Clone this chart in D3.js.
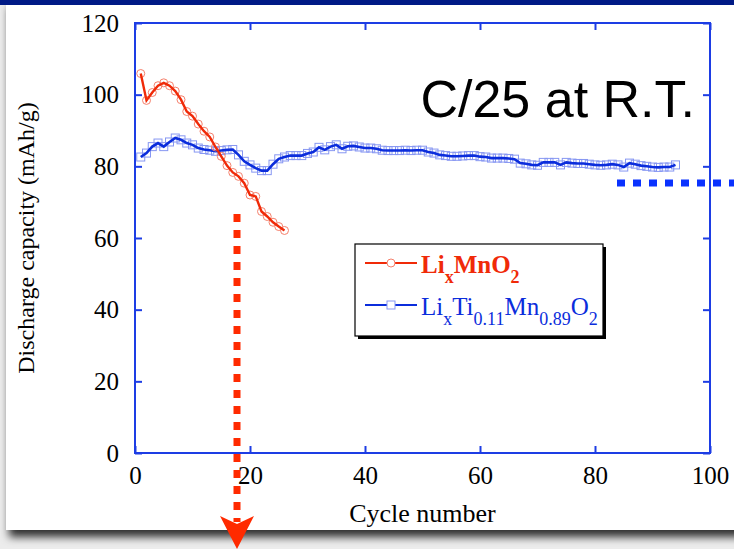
<!DOCTYPE html>
<html><head><meta charset="utf-8">
<script src="https://cdn.jsdelivr.net/npm/d3@7"></script>
<style>html,body{margin:0;padding:0;background:#ececec;overflow:hidden}</style>
</head><body>
<svg id="c" width="734" height="549"></svg>
<script>
const xTicks = [0, 20, 40, 60, 80, 100];
const yTicks = [0, 20, 40, 60, 80, 100, 120];
const redCycles = d3.range(1, 27);
const redValues = [105.9, 98.4, 100.6, 102.5, 103.3, 102.5, 101, 98.6, 95.3, 94, 91.8, 89.8, 88.2, 85.4, 82.8, 80.2, 78.3, 77.2, 75.3, 72, 71.6, 67.4, 66, 64.4, 63.2, 62.1];
const blueCycles = d3.range(1, 95);
const blueValues = [82.6, 83.7, 85.5, 86.5, 85.5, 86.8, 87.9, 87.4, 86.5, 86, 85.1, 84.7, 84.5, 84.2, 84.4, 84.6, 84.7, 83.2, 81.4, 80.4,
  79.5, 78.8, 78.8, 80.6, 82.1, 82.6, 83.0, 83.0, 83.0, 83.6, 84.0, 85.3, 84.6, 85.5, 86.0, 84.9, 85.6, 85.7, 85.4, 85.1,
  85.1, 84.9, 84.5, 84.4, 84.4, 84.4, 84.5, 84.4, 84.5, 84.5, 84.0, 83.7, 83.2, 83.0, 82.8, 82.8, 82.9, 83.0, 83.0, 82.7,
  82.6, 82.3, 82.3, 82.3, 82.2, 82.0, 80.9, 80.7, 80.4, 80.3, 81.1, 81.1, 81.1, 80.4, 81.1, 80.9, 80.8, 80.8, 80.6, 80.4,
  80.3, 80.4, 80.6, 80.4, 79.8, 80.9, 80.6, 80.2, 80.0, 79.8, 79.7, 79.8, 79.8, 80.4];
const titleText = "C/25 at R.T.";
const xLabel = "Cycle number";
const yLabel = "Discharge capacity (mAh/g)";

const svg = d3.select("#c");
const defs = svg.append("defs");
const f = defs.append("filter").attr("id","sh").attr("x","-10%").attr("y","-10%").attr("width","130%").attr("height","130%");
f.append("feDropShadow").attr("dx",3).attr("dy",7).attr("stdDeviation",4).attr("flood-color","#000").attr("flood-opacity",0.8);

svg.append("rect").attr("x",6).attr("y",0).attr("width",760).attr("height",530).attr("fill","#fff").attr("filter","url(#sh)");
svg.append("rect").attr("x",0).attr("y",0).attr("width",734).attr("height",5).attr("fill","#001a86");

const x = d3.scaleLinear().domain([0,100]).range([135,710]);
const y = d3.scaleLinear().domain([0,120]).range([453,23]);
const axisColor = "#1d3de4";
const serif = "'Liberation Serif','Times New Roman',serif";

svg.append("rect").attr("x",x(0)).attr("y",y(120)).attr("width",x(100)-x(0)).attr("height",y(0)-y(120))
  .attr("fill","none").attr("stroke",axisColor).attr("stroke-width",2);

function styleAxis(g){ g.select(".domain").remove(); g.selectAll("line").attr("stroke",axisColor).attr("stroke-width",2); g.selectAll("text").attr("font-family",serif).attr("font-size",25).attr("fill","#000"); }
svg.append("g").attr("transform",`translate(0,${y(0)})`).call(d3.axisBottom(x).tickValues(xTicks).tickSize(-7).tickPadding(13)).call(styleAxis);
svg.append("g").attr("transform",`translate(0,${y(120)})`).call(d3.axisTop(x).tickValues(xTicks).tickSize(-7).tickFormat("")).call(styleAxis);
svg.append("g").attr("transform",`translate(${x(0)},0)`).call(d3.axisLeft(y).tickValues(yTicks).tickSize(-7).tickPadding(16)).call(styleAxis);
svg.append("g").attr("transform",`translate(${x(100)},0)`).call(d3.axisRight(y).tickValues(yTicks).tickSize(-7).tickFormat("")).call(styleAxis);

svg.append("text").attr("x",(x(0)+x(100))/2).attr("y",522).attr("text-anchor","middle").attr("font-family",serif).attr("font-size",26).text(xLabel);
svg.append("text").attr("transform","translate(34,238) rotate(-90)").attr("text-anchor","middle").attr("font-family",serif).attr("font-size",24).text(yLabel);
svg.append("text").attr("x",695).attr("y",117).attr("text-anchor","end").attr("font-family","'Liberation Sans',Arial,sans-serif").attr("font-size",52).attr("fill","#000").text(titleText);

const red = "#f02a08", redM = "#f5806c", blue = "#0b2ddc", blueM = "#8797f2";
const line = d3.line().x(d=>x(d[0])).y(d=>y(d[1]));
const blueData = blueCycles.map((c,i)=>[c,blueValues[i]]);
const redData = redCycles.map((c,i)=>[c,redValues[i]]);

svg.append("g").selectAll("rect").data(blueData).join("rect")
  .attr("x",d=>x(d[0])-4).attr("y",d=>y(d[1])-4).attr("width",8).attr("height",8)
  .attr("fill","none").attr("stroke",blueM).attr("stroke-width",1);
svg.append("path").datum(blueData).attr("d",line).attr("fill","none").attr("stroke",blue).attr("stroke-width",2.6);
svg.append("g").selectAll("circle").data(redData).join("circle")
  .attr("cx",d=>x(d[0])).attr("cy",d=>y(d[1])).attr("r",4)
  .attr("fill","none").attr("stroke",redM).attr("stroke-width",1);
svg.append("path").datum(redData).attr("d",line).attr("fill","none").attr("stroke",red).attr("stroke-width",2.4);

// legend
const lg = svg.append("g");
lg.append("rect").attr("x",358).attr("y",247).attr("width",248).attr("height",92).attr("fill","#000");
lg.append("rect").attr("x",355).attr("y",244).attr("width",248).attr("height",92).attr("fill","#fff").attr("stroke","#000").attr("stroke-width",1.2);
lg.append("line").attr("x1",365).attr("x2",417).attr("y1",263).attr("y2",263).attr("stroke",red).attr("stroke-width",2);
lg.append("circle").attr("cx",391).attr("cy",263).attr("r",4).attr("fill","#fff").attr("stroke",redM);
lg.append("line").attr("x1",365).attr("x2",417).attr("y1",305).attr("y2",305).attr("stroke",blue).attr("stroke-width",2);
lg.append("rect").attr("x",387).attr("y",301).attr("width",8).attr("height",8).attr("fill","#fff").attr("stroke",blueM);

function formula(parts, yy, color, weight){
  const t = lg.append("text").attr("x",421).attr("y",yy).attr("font-family",serif).attr("fill",color).attr("font-weight",weight);
  let off = 0;
  parts.forEach(p=>{
    const target = p[1] ? 10 : 0;
    t.append("tspan").attr("font-size",p[1]?18:25).attr("dy",target-off).text(p[0]);
    off = target;
  });
}
formula([["Li",0],["x",1],["MnO",0],["2",1]], 273, red, "bold");
formula([["Li",0],["x",1],["Ti",0],["0.11",1],["Mn",0],["0.89",1],["O",0],["2",1]], 315, blue, "normal");

// arrows
svg.append("line").attr("x1",237).attr("x2",237).attr("y1",214).attr("y2",522)
  .attr("stroke","#ff2a00").attr("stroke-width",7).attr("stroke-dasharray","8 8");
svg.append("path").attr("d","M237,549 L220,516 L237,524 L254,516 Z").attr("fill","#ff2a00");
svg.append("line").attr("x1",617).attr("x2",734).attr("y1",183).attr("y2",183)
  .attr("stroke","#0a32ff").attr("stroke-width",7).attr("stroke-dasharray","8 8");
</script>
</body></html>
